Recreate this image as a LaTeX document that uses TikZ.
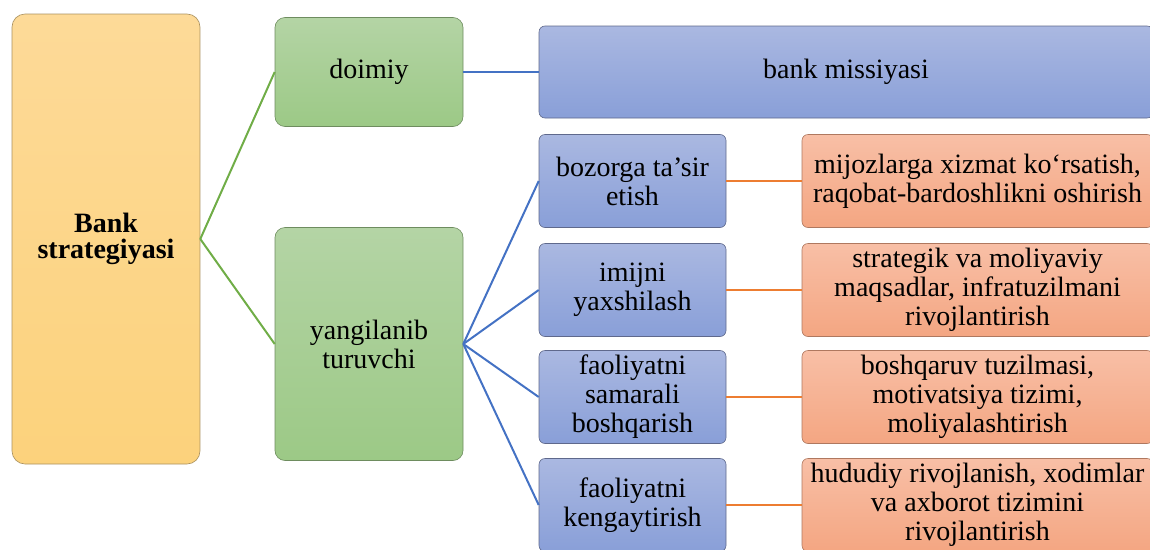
\documentclass[tikz,border=0pt]{standalone}
\usepackage{fontspec}
\setmainfont{Liberation Serif}
\definecolor{goldtop}{RGB}{253,218,152}
\definecolor{goldbot}{RGB}{252,210,124}
\definecolor{goldline}{RGB}{170,145,95}
\definecolor{greentop}{RGB}{180,212,165}
\definecolor{greenbot}{RGB}{156,201,134}
\definecolor{greenline}{RGB}{110,140,95}
\definecolor{bluetop}{RGB}{170,184,225}
\definecolor{bluebot}{RGB}{137,159,216}
\definecolor{blueline}{RGB}{95,105,140}
\definecolor{salmtop}{RGB}{248,191,166}
\definecolor{salmbot}{RGB}{244,166,130}
\definecolor{salmline}{RGB}{175,120,95}
\definecolor{linkgreen}{RGB}{112,173,71}
\definecolor{linkblue}{RGB}{68,114,196}
\definecolor{linkorange}{RGB}{237,125,49}
\begin{document}
\begin{tikzpicture}[x=1pt,y=-1pt,
  box/.style={rectangle, align=center, inner sep=0pt, line width=0.6pt,
    font=\fontsize{28}{29}\selectfont},
  goldbox/.style={box, rounded corners=13pt, top color=goldtop, bottom color=goldbot, draw=goldline},
  greenbox/.style={box, rounded corners=10pt, top color=greentop, bottom color=greenbot, draw=greenline,
    minimum width=188pt},
  bluebox/.style={box, rounded corners=6pt, top color=bluetop, bottom color=bluebot, draw=blueline,
    minimum height=93pt},
  salmbox/.style={box, rounded corners=6pt, top color=salmtop, bottom color=salmbot, draw=salmline,
    minimum width=351pt, minimum height=93pt},
  glink/.style={draw=linkgreen, line width=2pt},
  blink/.style={draw=linkblue, line width=2pt},
  olink/.style={draw=linkorange, line width=2pt}
]
\useasboundingbox (0,0) rectangle (1150,549);
\clip (0,0) rectangle (1150,549);

% root
\node[goldbox, minimum width=188pt, minimum height=450pt,
  font=\fontsize{28}{26.5}\selectfont\bfseries] (bank) at (106,239) {Bank\\strategiyasi};

% two kinds of strategy
\node[greenbox, minimum height=109pt] (doimiy) at (369,72) {doimiy};
\node[greenbox, minimum height=233pt] (yangi) at (369,344) {yangilanib\\turuvchi};

% permanent part
\node[bluebox, minimum width=614pt, minimum height=92pt] (missiya) at (846,72) {bank missiyasi};

% renewable directions
\node[bluebox, minimum width=187pt] (b1) at (632.5,181) {bozorga ta’sir\\etish};
\node[bluebox, minimum width=187pt] (b2) at (632.5,290) {imijni\\yaxshilash};
\node[bluebox, minimum width=187pt] (b3) at (632.5,397) {faoliyatni\\samarali\\boshqarish};
\node[bluebox, minimum width=187pt] (b4) at (632.5,505) {faoliyatni\\kengaytirish};

% their contents
\node[salmbox] (o1) at (977.5,181) {mijozlarga xizmat ko‘rsatish,\\raqobat-bardoshlikni oshirish};
\node[salmbox] (o2) at (977.5,290) {strategik va moliyaviy\\maqsadlar, infratuzilmani\\rivojlantirish};
\node[salmbox] (o3) at (977.5,397) {boshqaruv tuzilmasi,\\motivatsiya tizimi,\\moliyalashtirish};
\node[salmbox] (o4) at (977.5,505) {hududiy rivojlanish, xodimlar\\va axborot tizimini\\rivojlantirish};

% connectors
\draw[glink] (bank.east) -- (doimiy.west);
\draw[glink] (bank.east) -- (yangi.west);
\draw[blink] (doimiy.east) -- (doimiy.east -| missiya.west);
\foreach \b in {b1,b2,b3,b4} {
  \draw[blink] (yangi.east) -- (\b.west);
}
\foreach \b/\o in {b1/o1,b2/o2,b3/o3,b4/o4} {
  \draw[olink] (\b.east) -- (\o.west);
}
\end{tikzpicture}
\end{document}
